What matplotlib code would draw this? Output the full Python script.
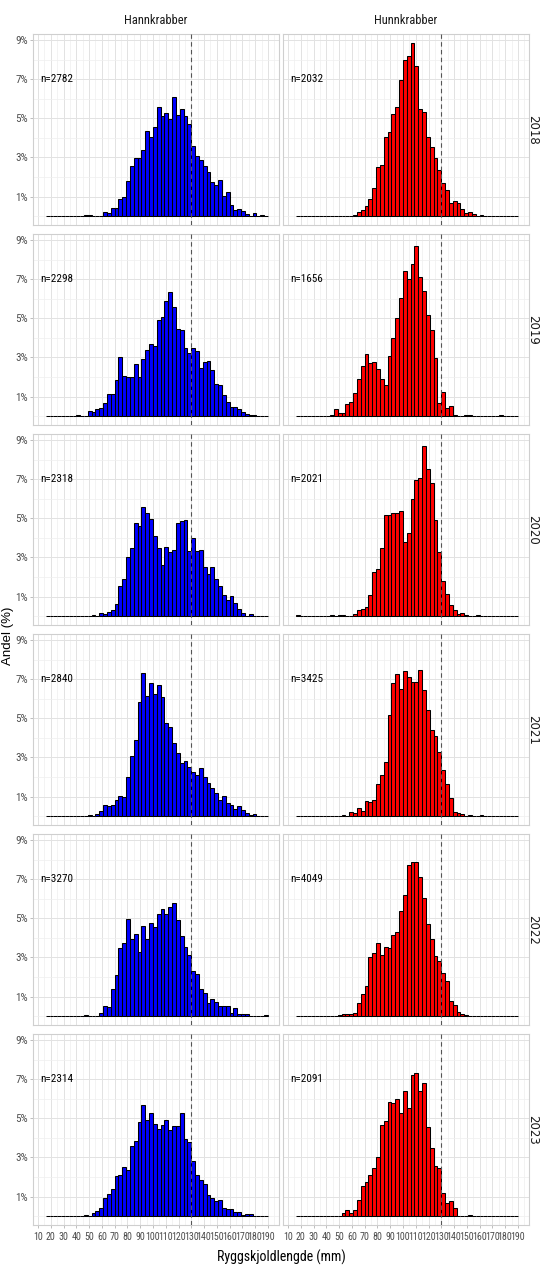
import matplotlib
matplotlib.use("Agg")
import matplotlib.pyplot as plt
from matplotlib import font_manager as fm
import numpy as np

# pick a narrow sans family if one is installed (reference text is condensed)
_names = {f.name for f in fm.fontManager.ttflist}
_narrow = [n for n in ['Liberation Sans Narrow', 'Roboto Condensed', 'Open Sans Condensed',
                       'DejaVu Sans Condensed'] if n in _names]
HAS_NARROW = len(_narrow) > 0
plt.rcParams['font.family'] = _narrow + ['Liberation Sans', 'DejaVu Sans']

# ---------------- data (percent of crabs per 3 mm carapace-length bin) ----------------
years = ['2018', '2019', '2020', '2021', '2022', '2023']
sexes = ['Hannkrabber', 'Hunnkrabber']
bin_edges = list(range(16, 191, 3))          # 16, 19, ..., 190  -> 58 bins
x_ticks = list(range(10, 191, 10))
y_ticks = [1, 3, 5, 7, 9]
y_tick_labels = ['1%', '3%', '5%', '7%', '9%']
ref_length = 130                              # dashed reference line (mm)

n_male = [2782, 2298, 2318, 2840, 3270, 2314]
n_female = [2032, 1656, 2021, 3425, 4049, 2091]

male_2018 = [0, 0, 0, 0, 0, 0, 0, 0, 0, 0,
             0.04, 0.04, 0, 0.03, 0, 0.19, 0.15, 0.40, 0.43, 0.86,
             0.96, 1.82, 2.55, 2.96, 2.96, 3.40, 4.37, 4.07, 4.56, 5.57,
             5.13, 5.25, 4.97, 6.10, 5.17, 5.49, 5.10, 4.71, 3.61, 3.06,
             2.87, 2.55, 2.26, 1.77, 1.57, 1.86, 1.01, 1.22, 0.59, 0.32,
             0.35, 0.24, 0.10, 0, 0.14, 0, 0.07, 0]
female_2018 = [0, 0, 0, 0, 0, 0, 0, 0, 0, 0,
               0, 0, 0, 0, 0, 0.07, 0.19, 0.30, 0.52, 0.86,
               1.44, 2.50, 2.60, 4.07, 4.31, 5.20, 5.59, 6.94, 7.96, 8.19,
               8.83, 7.65, 5.46, 5.34, 4.07, 3.56, 2.97, 2.35, 1.72, 1.33,
               0.69, 0.79, 0.66, 0.39, 0.15, 0.19, 0.10, 0, 0.08, 0,
               0, 0, 0, 0, 0, 0, 0, 0]
male_2019 = [0, 0, 0, 0, 0, 0, 0, 0, 0.05, 0,
             0, 0.28, 0.20, 0.35, 0.40, 0.66, 1.12, 1.13, 1.83, 3.02,
             2.07, 1.99, 2.02, 2.67, 2.02, 2.90, 3.38, 3.69, 3.60, 4.91,
             5.08, 5.90, 6.33, 5.56, 4.47, 4.38, 3.48, 3.24, 3.51, 3.34,
             2.45, 2.78, 2.83, 2.36, 1.62, 1.57, 1.06, 0.74, 0.48, 0.48,
             0.35, 0.23, 0.11, 0.06, 0.04, 0, 0, 0]
female_2019 = [0, 0, 0, 0, 0, 0, 0, 0, 0, 0.06,
               0.35, 0.18, 0.18, 0.60, 0.72, 1.16, 1.88, 2.56, 3.20, 2.73,
               2.78, 2.40, 1.88, 1.59, 3.09, 4.02, 5.00, 6.02, 7.43, 6.99,
               7.80, 8.72, 7.13, 6.40, 5.17, 4.40, 2.95, 0.65, 1.25, 0.40,
               0.53, 0.04, 0, 0, 0.05, 0.05, 0, 0, 0, 0,
               0, 0, 0, 0.05, 0, 0, 0, 0]
male_2020 = [0, 0, 0, 0, 0, 0, 0, 0, 0, 0,
             0, 0, 0.04, 0, 0.17, 0.12, 0.20, 0.34, 0.61, 1.55,
             1.89, 3.00, 3.51, 4.77, 4.62, 5.60, 5.25, 4.99, 4.09, 3.46,
             2.64, 3.54, 3.27, 3.37, 4.74, 4.87, 4.91, 3.34, 3.99, 3.34,
             3.37, 2.49, 2.18, 2.49, 1.89, 1.53, 1.07, 0.85, 1.02, 0.68,
             0.39, 0.17, 0, 0.09, 0, 0, 0, 0]
female_2020 = [0.05, 0, 0, 0, 0, 0, 0, 0, 0, 0.05,
               0, 0.05, 0.05, 0, 0, 0.12, 0.34, 0.39, 0.48, 1.09,
               2.27, 2.39, 3.51, 5.16, 5.16, 5.28, 5.28, 5.40, 3.80, 4.26,
               5.98, 6.98, 7.07, 8.69, 7.50, 6.83, 4.94, 3.27, 1.79, 1.12,
               0.56, 0.34, 0.12, 0.15, 0.05, 0, 0, 0.05, 0, 0,
               0, 0, 0, 0, 0, 0, 0, 0]
male_2021 = [0, 0, 0, 0, 0, 0, 0, 0, 0, 0,
             0, 0.04, 0, 0.12, 0.26, 0.58, 0.50, 0.58, 0.85, 1.02,
             0.99, 2.01, 3.07, 3.88, 5.81, 7.33, 6.13, 6.83, 6.23, 6.69,
             6.10, 4.77, 4.57, 3.72, 3.24, 2.73, 2.81, 2.49, 2.27, 2.10,
             2.44, 2.01, 1.70, 1.46, 1.19, 0.82, 1.04, 0.68, 0.55, 0.36,
             0.50, 0.34, 0.15, 0.07, 0.09, 0, 0, 0]
female_2021 = [0, 0, 0, 0, 0, 0, 0, 0, 0, 0,
               0, 0, 0.04, 0, 0.22, 0.14, 0.44, 0.26, 0.78, 0.73,
               0.82, 1.64, 2.11, 2.76, 5.16, 6.81, 7.29, 6.52, 7.43, 7.12,
               6.86, 6.86, 7.46, 6.47, 5.42, 4.43, 4.09, 3.27, 2.35, 1.64,
               0.94, 0.22, 0.14, 0.12, 0, 0.04, 0, 0, 0.04, 0,
               0, 0, 0, 0, 0, 0, 0, 0]
male_2022 = [0, 0, 0, 0, 0, 0, 0, 0, 0, 0,
             0.04, 0, 0, 0, 0.17, 0.51, 0.48, 1.41, 2.13, 3.46,
             3.72, 4.99, 3.97, 4.19, 3.29, 4.60, 3.92, 4.74, 4.57, 5.22,
             5.50, 5.22, 5.59, 5.79, 4.91, 4.09, 3.54, 3.12, 2.30, 2.15,
             1.38, 1.21, 0.65, 0.87, 0.70, 0.53, 0.53, 0.53, 0.17, 0.43,
             0.12, 0.10, 0.10, 0, 0, 0, 0, 0.05]
female_2022 = [0, 0, 0, 0, 0, 0, 0, 0, 0, 0,
               0, 0.04, 0.10, 0.09, 0.10, 0.17, 0.68, 1.12, 1.53, 3.02,
               3.22, 3.74, 3.12, 3.54, 3.46, 4.14, 4.28, 5.38, 6.18, 7.72,
               7.89, 7.89, 7.12, 6.06, 4.69, 3.97, 3.09, 2.83, 2.22, 1.81,
               0.78, 0.55, 0.20, 0.12, 0.05, 0, 0, 0, 0, 0,
               0, 0, 0, 0, 0, 0, 0, 0]
male_2023 = [0, 0, 0, 0, 0, 0, 0, 0, 0, 0,
             0.05, 0, 0.17, 0.26, 0.44, 0.95, 1.11, 1.41, 2.06, 2.10,
             2.52, 2.35, 3.58, 3.85, 4.79, 5.67, 4.91, 5.28, 4.70, 4.48,
             4.68, 4.91, 4.40, 4.62, 4.62, 5.25, 3.97, 3.80, 2.81, 2.10,
             1.87, 1.62, 1.07, 0.94, 0.78, 0.82, 0.44, 0.39, 0.39, 0.19,
             0.19, 0.05, 0.09, 0.09, 0, 0, 0, 0]
female_2023 = [0, 0, 0, 0, 0, 0, 0, 0, 0, 0,
               0, 0, 0.14, 0.34, 0.17, 0.34, 0.85, 1.53, 1.75, 2.08,
               2.47, 3.00, 4.68, 4.87, 5.84, 5.76, 6.01, 5.28, 6.39, 5.54,
               7.21, 7.33, 6.39, 6.81, 4.57, 3.51, 2.56, 2.47, 1.16, 0.65,
               0.78, 0.43, 0, 0, 0, 0.05, 0, 0, 0, 0,
               0, 0, 0, 0, 0, 0, 0, 0]

male_series = [male_2018, male_2019, male_2020, male_2021, male_2022, male_2023]
female_series = [female_2018, female_2019, female_2020, female_2021, female_2022, female_2023]
fill_colors = ['#0000FF', '#FF0000']

# font sizes (narrow family allows larger sizes without collisions)
fs_xtick = 7.2 if HAS_NARROW else 5.6
fs_ytick = 8.0 if HAS_NARROW else 7.0
fs_strip = 9.0 if HAS_NARROW else 8.0
fs_n = 8.0 if HAS_NARROW else 7.0
fs_xlab = 10.0 if HAS_NARROW else 9.0

# ---------------- layout (pixels) ----------------
W, H = 540, 1272
fig = plt.figure(figsize=(W / 100, H / 100), dpi=100, facecolor='white')


def rect(x0, top, w, h):
    return [x0 / W, 1 - (top + h) / H, w / W, h / H]


panel_x = [33, 283]
panel_w = 246
panel_h = 191
row_step = 200
first_top = 34

left_edges = bin_edges[:-1]
widths = np.diff(bin_edges)

for r, year in enumerate(years):
    top = first_top + r * row_step
    for c in range(2):
        ax = fig.add_axes(rect(panel_x[c], top, panel_w, panel_h))
        vals = male_series[r] if c == 0 else female_series[r]
        n = n_male[r] if c == 0 else n_female[r]
        ax.bar(left_edges, vals, width=widths, align='edge',
               color=fill_colors[c], edgecolor='black', linewidth=0.75, zorder=2)
        ax.axvline(ref_length, color='#555555', linestyle=(0, (4, 3)),
                   linewidth=0.8, zorder=3)
        ax.text(24.5, 7.0, f'n={n}', ha='center', va='center', fontsize=fs_n,
                color='black', zorder=4)

        ax.set_xlim(6.06, 198.7)
        ax.set_ylim(-0.45, 9.31)
        ax.set_xticks(x_ticks)
        ax.set_xticks(np.arange(15, 200, 10), minor=True)
        ax.set_yticks(y_ticks)
        ax.set_yticks([0, 2, 4, 6, 8], minor=True)
        ax.set_axisbelow(True)
        ax.grid(which='major', color='#e2e2e2', linewidth=0.7)
        ax.grid(which='minor', color='#efefef', linewidth=0.5)
        for s in ax.spines.values():
            s.set_color('#cfcfcf')
            s.set_linewidth(0.8)
        ax.tick_params(which='minor', length=0)
        ax.tick_params(which='major', color='#b3b3b3', length=2.5, width=0.6,
                       labelcolor='#4d4d4d')

        if r == len(years) - 1:
            ax.set_xticklabels([str(t) for t in x_ticks], fontsize=fs_xtick)
            ax.tick_params(axis='x', pad=2.5)
        else:
            ax.set_xticklabels([])
            ax.tick_params(axis='x', length=0)
        if c == 0:
            ax.set_yticklabels(y_tick_labels, fontsize=fs_ytick)
            ax.tick_params(axis='y', pad=1.2)
        else:
            ax.set_yticklabels([])
            ax.tick_params(axis='y', length=0)

        if r == 0:
            fig.text((panel_x[c] + panel_w / 2) / W, 1 - 21 / H, sexes[c],
                     ha='center', va='center', fontsize=fs_strip, color='#1a1a1a')

    # year strip on the right
    fig.text(533 / W, 1 - (top + panel_h / 2) / H, year, rotation=270,
             ha='center', va='center', fontsize=8.5, color='#1a1a1a',
             family=['DejaVu Sans'])

# axis titles
fig.text(281 / W, 1 - 1257 / H, 'Ryggskjoldlengde (mm)', ha='center', va='center',
         fontsize=fs_xlab, color='black')
fig.text(8 / W, 1 - 636 / H, 'Andel (%)', rotation=90, ha='center', va='center',
         fontsize=9.5, color='black', family=['Liberation Sans', 'DejaVu Sans'])

fig.savefig('out.png', dpi=100, facecolor='white')
